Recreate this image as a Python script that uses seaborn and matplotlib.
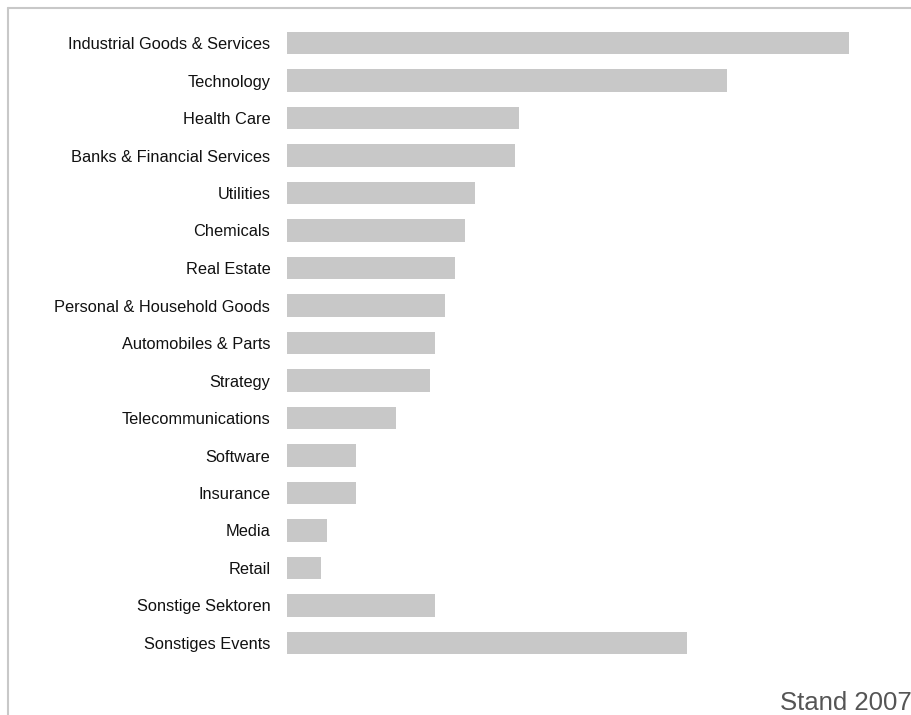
import matplotlib
matplotlib.use("Agg")
import matplotlib.pyplot as plt
import seaborn as sns
import pandas as pd
from matplotlib.lines import Line2D

categories = [
    "Industrial Goods & Services", "Technology", "Health Care",
    "Banks & Financial Services", "Utilities", "Chemicals", "Real Estate",
    "Personal & Household Goods", "Automobiles & Parts", "Strategy",
    "Telecommunications", "Software", "Insurance", "Media", "Retail",
    "Sonstige Sektoren", "Sonstiges Events",
]
values = [56.2, 44.0, 23.2, 22.8, 18.8, 17.8, 16.8, 15.8, 14.8, 14.3,
          10.9, 6.9, 6.9, 4.0, 3.4, 14.8, 40.0]
footnote = "Stand 2007"

df = pd.DataFrame({"Sektor": categories, "Wert": values})

sns.set_theme(style="white")
plt.rcParams["font.family"] = ["Liberation Sans", "DejaVu Sans"]

W, H = 911, 715
fig = plt.figure(figsize=(W / 100, H / 100), dpi=100)
top_px, bot_px = 24.25, 661.75
ax = fig.add_axes([287 / W, 1 - bot_px / H, (W - 287) / W, (bot_px - top_px) / H])

sns.barplot(data=df, x="Wert", y="Sektor", order=categories, color="#c8c8c8",
            saturation=1, width=0.587, ax=ax, edgecolor="none")

ax.set_xlim(0, (W - 287) / 10)
ax.set_ylim(len(categories) - 0.5, -0.5)
ax.set_xlabel("")
ax.set_ylabel("")
ax.set_xticks([])
for s in ax.spines.values():
    s.set_visible(False)
ax.tick_params(axis="y", length=0, pad=12, labelsize=11.8, labelcolor="#111111")

# outer frame (top and left)
fig.add_artist(Line2D([7.5 / W, 1], [1 - 8 / H, 1 - 8 / H], color="#c8c8c8", lw=1.5,
                      transform=fig.transFigure))
fig.add_artist(Line2D([7.5 / W, 7.5 / W], [0, 1 - 8 / H], color="#c8c8c8", lw=1.5,
                      transform=fig.transFigure))

fig.text(780 / W, 1 - 710 / H, footnote, ha="left", va="baseline", fontsize=18.5,
         color="#555555")

fig.savefig("out.png", dpi=100)
